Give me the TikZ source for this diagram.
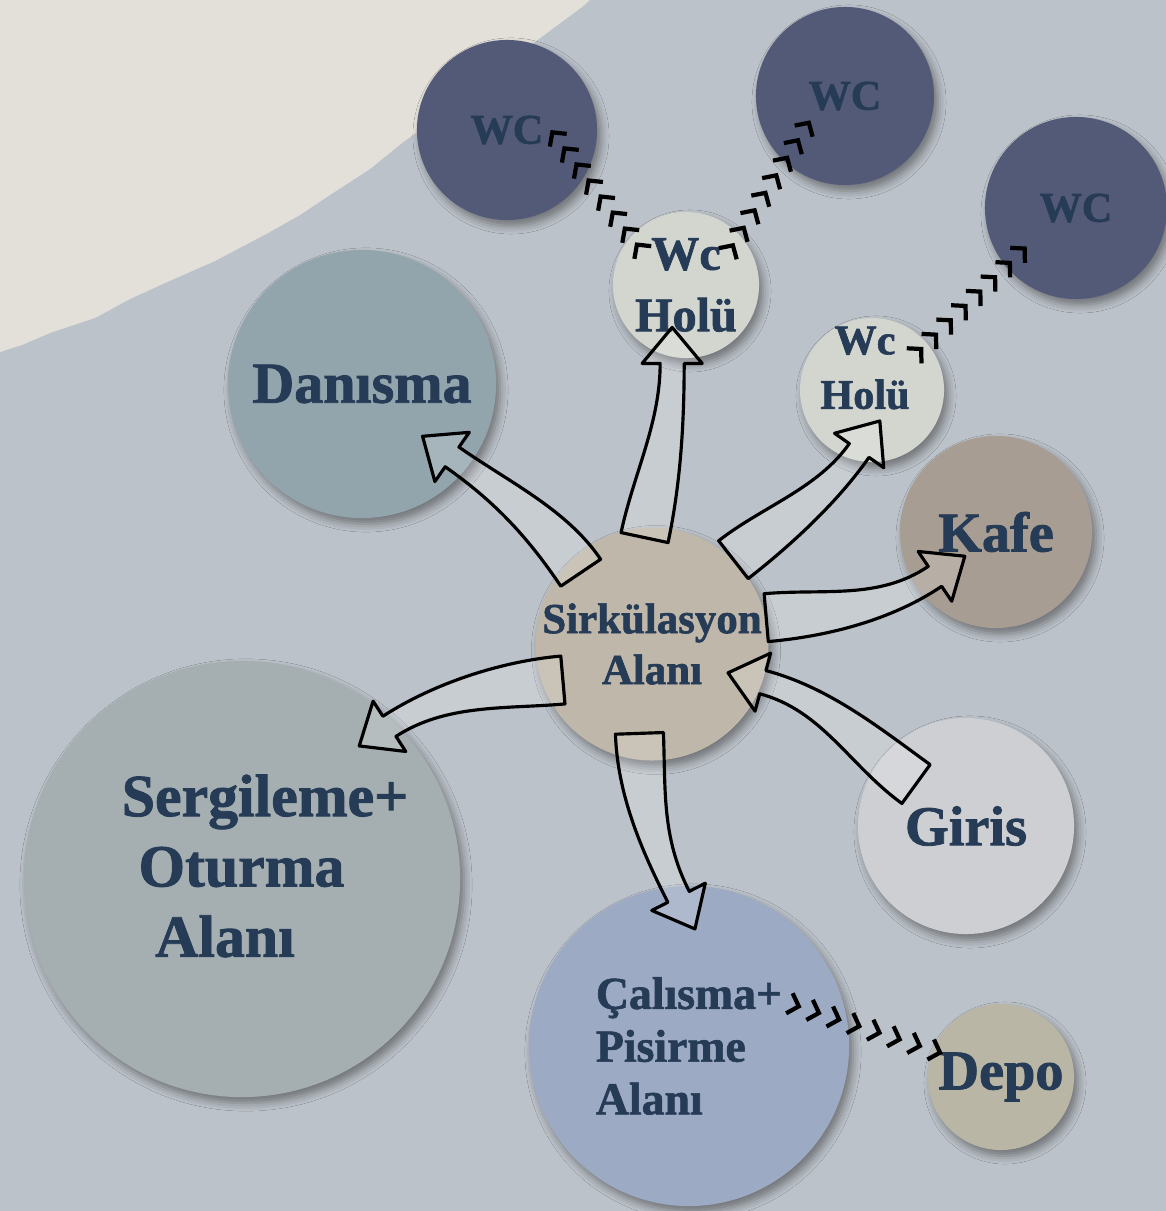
\documentclass[tikz,border=0pt]{standalone}
\usepackage{fontspec}
\setmainfont{Liberation Serif}[BoldFeatures={FakeBold=1.4}]
\usetikzlibrary{calc,arrows.meta,decorations.markings,shadows.blur}

\definecolor{bgblue}{HTML}{BCC2C9}
\definecolor{cream}{HTML}{E2E0D9}
\definecolor{wcblue}{HTML}{525A78}
\definecolor{holucol}{HTML}{D3D5CF}
\definecolor{dancol}{HTML}{92A5AD}
\definecolor{kafecol}{HTML}{A89D93}
\definecolor{sirkcol}{HTML}{BFB7A9}
\definecolor{sergcol}{HTML}{A5AFB2}
\definecolor{giriscol}{HTML}{CDCFD3}
\definecolor{calcol}{HTML}{9DAAC3}
\definecolor{depocol}{HTML}{B9B6A5}
\definecolor{textcol}{HTML}{263B56}

\tikzset{
  room/.style={circle, inner sep=0pt, minimum size=#1, text=textcol, align=center,
    blur shadow={shadow xshift=0.04cm, shadow yshift=-0.06cm, shadow blur radius=0.08cm}},
  lbl/.style={text=textcol, inner sep=0pt},
  flow/.style={draw=black, line width=0.9pt, fill=white, fill opacity=0.18, line join=round},
  chevrons/.style={decoration={markings,
      mark=between positions 0 and 1 step 0.1428 with {\arrow{Straight Barb[length=2.8pt,width=6pt,line width=1.2pt]}}},
    postaction={decorate}},
}
\newcommand{\fsize}[2]{\bfseries\fontsize{#1}{#2}\selectfont}

% hollow bent arrow: start, out angle, end, in angle, control length
\newcommand{\flowarrow}[5]{%
  \path (#1) coordinate (fs) ++(#2:#5) coordinate (fa);
  \path (#3) coordinate (fe) ++(#4:#5) coordinate (fb);
  \coordinate (fsl) at ($(fs)!0.24cm!90:(fa)$);
  \coordinate (fsr) at ($(fs)!0.24cm!-90:(fa)$);
  \coordinate (fel) at ($(fe)!0.12cm!-90:(fb)$);
  \coordinate (fer) at ($(fe)!0.12cm!90:(fb)$);
  \coordinate (fhl) at ($(fe)!0.30cm!-90:(fb)$);
  \coordinate (fhr) at ($(fe)!0.30cm!90:(fb)$);
  \coordinate (ftip) at ($(fe)!0.36cm!180:(fb)$);
  \draw[flow] (fsr) -- (fsl)
    .. controls ($(fa)+(fsl)-(fs)$) and ($(fb)+(fel)-(fe)$) .. (fel)
    -- (fhl) -- (ftip) -- (fhr) -- (fer)
    .. controls ($(fb)+(fer)-(fe)$) and ($(fa)+(fsr)-(fs)$) .. (fsr) -- cycle;
}

\begin{document}
\begin{tikzpicture}[x=0.01cm, y=0.01cm]
\useasboundingbox (0,0) rectangle (1166,1211);
\clip (0,0) rectangle (1166,1211);
\fill[bgblue] (0,0) rectangle (1166,1211);
\fill[cream] (0,1211) -- (0,859) -- (22,866) -- (50,878) -- (95,893) -- (130,912)
  -- (165,928) -- (215,950) -- (268,978) -- (300,996) -- (333,1018) -- (370,1042)
  -- (402,1068) -- (432,1090) -- (459,1111) -- (505,1147) -- (555,1184) -- (582,1204)
  -- (590,1211) -- cycle;

% rooms
\node[room=1.80cm, fill=wcblue, font=\fsize{12}{14}] (wca) at (507,1081) {WC};
\node[room=1.78cm, fill=wcblue, font=\fsize{12}{14}] (wcb) at (845,1115) {WC};
\node[room=1.82cm, fill=wcblue, font=\fsize{12}{14}] (wcc) at (1076,1003) {WC};
\node[room=1.46cm, fill=holucol, font=\fsize{13.7}{17.5}] (holua) at (686,926) {Wc\\Holü};
\node[room=1.44cm, fill=holucol] (holub) at (872,821) {};
\node[lbl, align=center, font=\fsize{12}{15.5}] (holubtxt) at ($(holub)+(-7,22)$) {Wc\\Holü};
\node[room=2.68cm, fill=dancol, font=\fsize{16.5}{19}] (dan) at (362,827) {Danısma};
\node[room=1.92cm, fill=kafecol, font=\fsize{16}{19}] (kafe) at (996,679) {Kafe};
\node[room=2.16cm, fill=sirkcol, font=\fsize{12.2}{14.5}] (sirk) at (652,567) {Sirkülasyon\\Alanı};
\node[room=4.36cm, fill=sergcol] (serg) at (242,332) {};
\node[lbl, align=left, font=\fsize{17}{20}] (sergtxt) at ($(serg)+(23,13)$)
  {Sergileme+\\\hspace*{0.28em}Oturma\\\hspace*{0.56em}Alanı};
\node[room=2.16cm, fill=giriscol, font=\fsize{16}{19}] (giris) at (966,385) {Giris};
\node[room=3.20cm, fill=calcol, align=left, font=\fsize{13}{15}] (cal) at (689,165) {Çalısma+\\Pisirme\\Alanı};
\node[room=1.46cm, fill=depocol, font=\fsize{16}{19}] (depo) at (1001,134) {Depo};

% circulation arrows
\flowarrow{$(sirk)!.86!(sirk.135)$}{124}{$(dan)!.86!(dan.-39)$}{-35}{60}
\flowarrow{$(sirk)!.91!(sirk.94)$}{78}{$(holua)!1.08!(holua.-100)$}{-90}{60}
\flowarrow{sirk.46}{38}{$(holub)!.85!(holub.-102)$}{235}{55}
\flowarrow{sirk.13}{5}{$(kafe)!.78!(kafe.-144)$}{214}{60}
\flowarrow{$(giris)!.6!(giris.140)$}{144}{sirk.-19}{-15}{65}
\flowarrow{$(sirk)!.82!(sirk.202)$}{185}{$(serg)!.97!(serg.46)$}{33}{60}
\flowarrow{$(sirk)!.77!(sirk.-98)$}{-88}{$(cal)!.93!(cal.94)$}{117}{60}

% secondary links
\path[chevrons] ($(holua)!.9!(holua.140)$) -- ($(wca)!.48!(wca.0)$);
\path[chevrons] ($(holua)!.87!(holua.41)$) -- ($(wcb)!.47!(wcb.215)$);
\path[chevrons] ($(holub)!.92!(holub.40)$) -- ($(wcc)!.68!(wcc.218)$);
\path[chevrons] ($(cal)!.74!(cal.19)$) -- ($(depo)!.85!(depo.158)$);
\end{tikzpicture}
\end{document}
